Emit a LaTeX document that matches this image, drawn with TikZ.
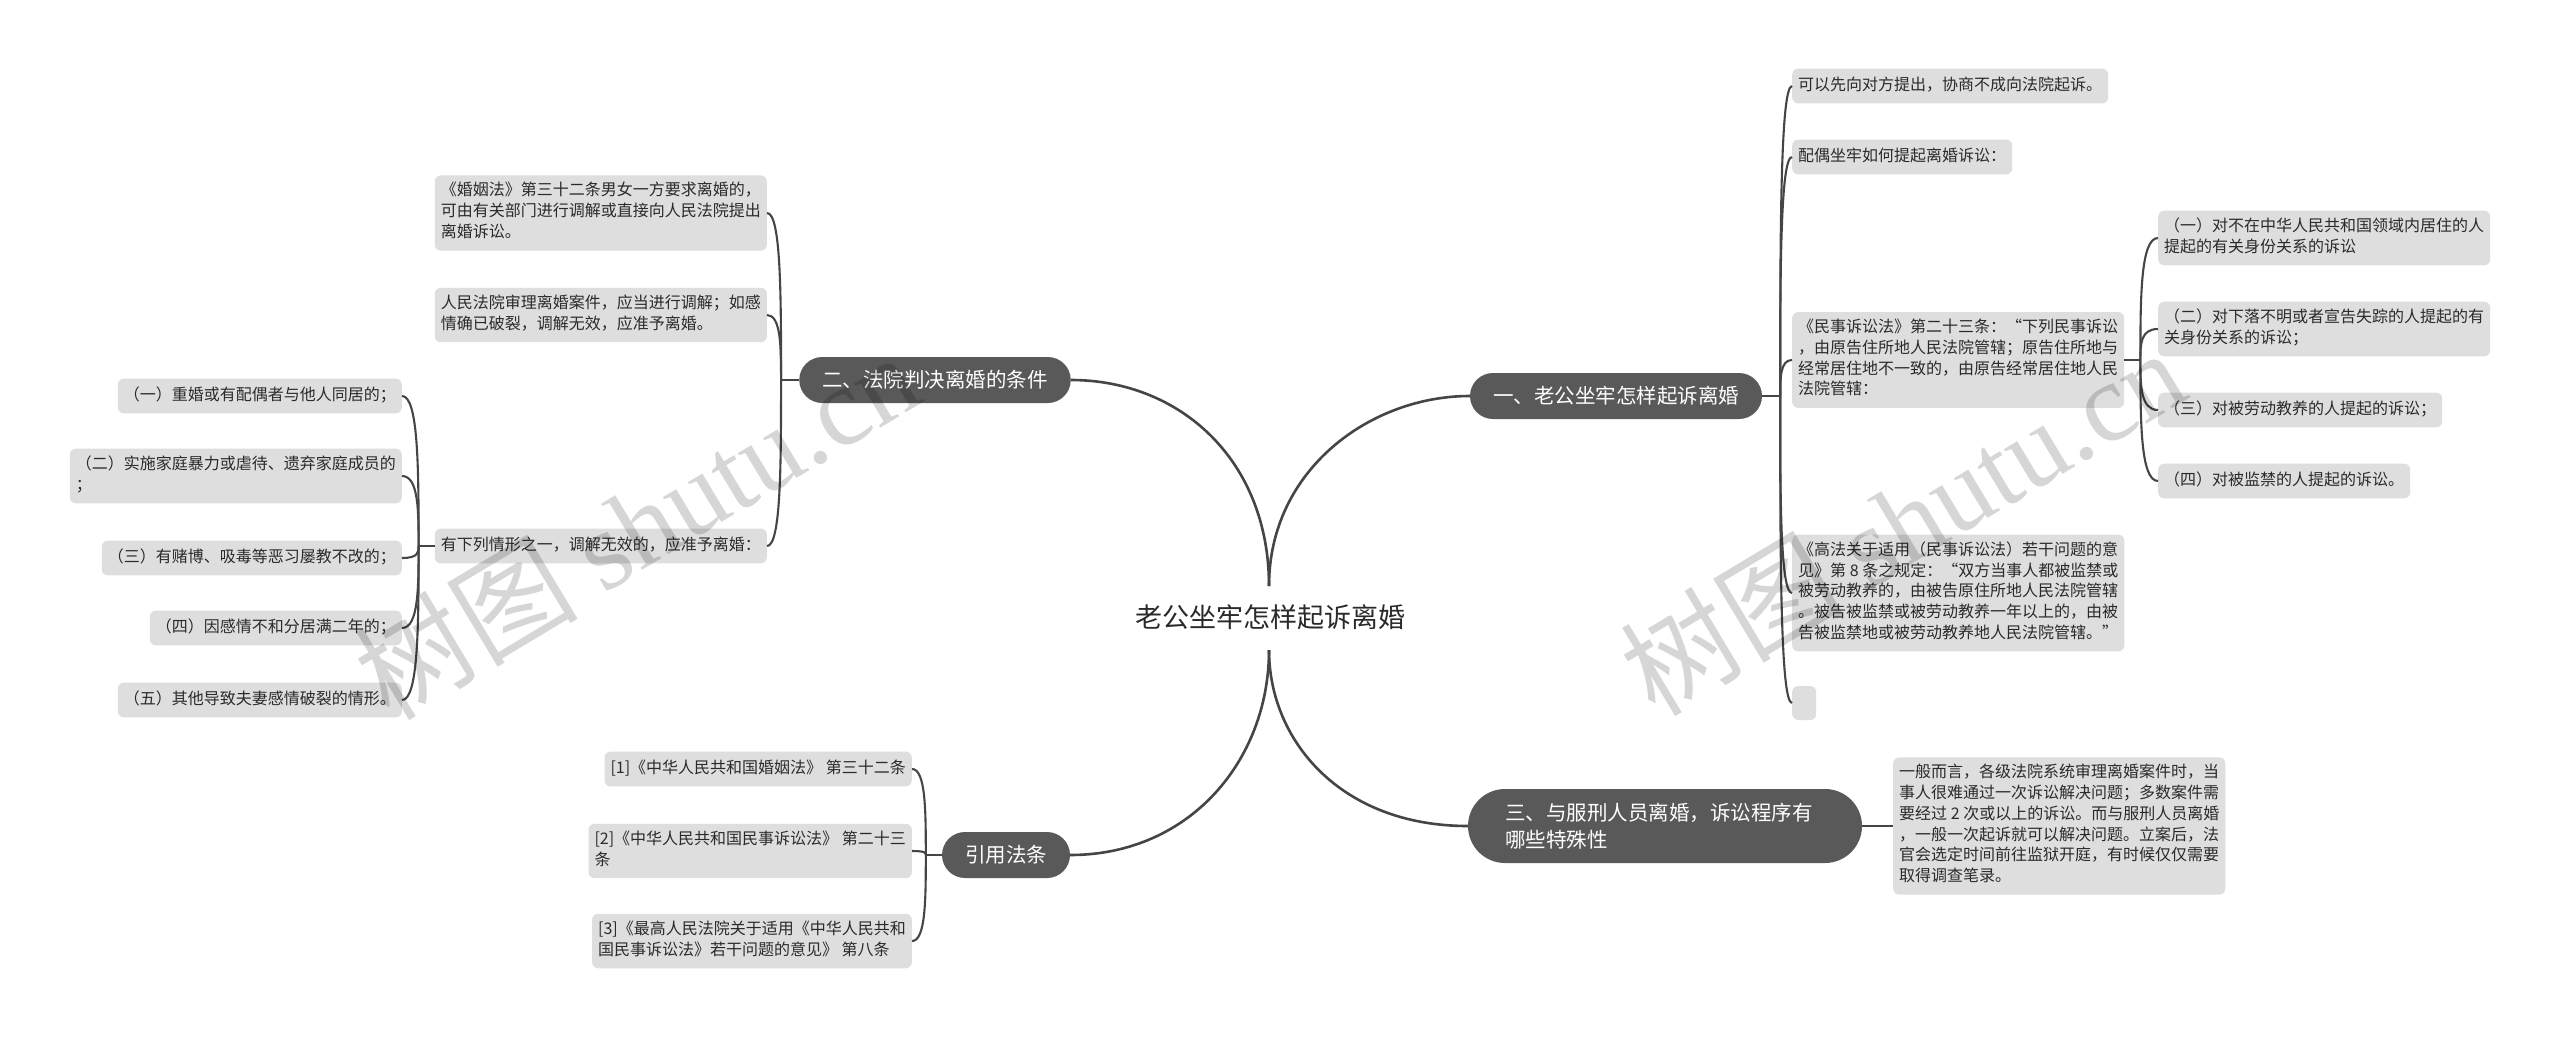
\documentclass[tikz,border=0pt]{standalone}
\usepackage{fontspec}
\setmainfont{Noto Sans CJK SC}
\newfontfamily\wmlatin{Liberation Serif}
\usetikzlibrary{calc}
\definecolor{branchfill}{HTML}{595959}
\definecolor{leaffill}{HTML}{DEDEDE}
\definecolor{linecol}{HTML}{454545}
\definecolor{txtcol}{HTML}{2A2A2A}
\tikzset{
  leaf/.style={fill=leaffill, rounded corners=6pt, inner xsep=6pt, inner ysep=7pt,
    align=left, text=txtcol, font=\fontsize{16}{20.7}\selectfont,
    execute at begin node=\strut, execute at end node=\strut},
  branch/.style={fill=branchfill, text=white, font=\fontsize{20.5}{27}\selectfont,
    inner xsep=23pt, inner ysep=0pt, minimum height=46pt, rounded corners=23pt},
  mainline/.style={draw=linecol, line width=2.6pt},
  leafline/.style={draw=linecol, line width=2.1pt},
  wm/.style={text=black, text opacity=0.16, font=\fontsize{112}{120}\selectfont}
}
\newcommand\elbowconn[2]{\draw[leafline] (#1) .. controls ($(#1)!0.5!(#1 |- #2)$) and (#1 |- #2) .. (#2);}
\begin{document}
\begin{tikzpicture}[x=1pt,y=-1pt]
\path[fill=white] (0,0) rectangle (2560,1039);
\useasboundingbox (0,0) rectangle (2560,1039);

% root
\node[text=txtcol, font=\fontsize{27}{32}\selectfont, inner sep=0pt] (root) at (1270,617) {老公坐牢怎样起诉离婚};
\coordinate (rt) at (1269,586);
\coordinate (rb) at (1269,650);

% branches
\node[branch] (b2) at (935,380) {二、法院判决离婚的条件};
\node[branch] (b1) at (1616,396) {一、老公坐牢怎样起诉离婚};
\node[branch] (b4) at (1006,855) {引用法条};
\node[branch, align=left, text width=320pt, inner xsep=37pt, minimum height=74pt, rounded corners=37pt] (b3) at (1665,826) {三、与服刑人员离婚，诉讼程序有\\哪些特殊性};

\draw[mainline] (rt) .. controls (1269,460) and (1180,380) .. (b2.east);
\draw[mainline] (rt) .. controls (1269,470) and (1370,396) .. (b1.west);
\draw[mainline] (rb) .. controls (1269,760) and (1190,855) .. (b4.east);
\draw[mainline] (rb) .. controls (1269,740) and (1340,826) .. (b3.west);

% branch 二 children
\node[leaf, anchor=east] (a1) at (767,213) {《婚姻法》第三十二条男女一方要求离婚的，\\可由有关部门进行调解或直接向人民法院提出\\离婚诉讼。};
\node[leaf, anchor=east] (a2) at (767,315) {人民法院审理离婚案件，应当进行调解；如感\\情确已破裂，调解无效，应准予离婚。};
\node[leaf, anchor=east] (a3) at (767,546) {有下列情形之一，调解无效的，应准予离婚：};
\node[leaf, anchor=east] (c1) at (402,396) {（一）重婚或有配偶者与他人同居的；};
\node[leaf, anchor=east] (c2) at (402,476) {（二）实施家庭暴力或虐待、遗弃家庭成员的\\；};
\node[leaf, anchor=east] (c3) at (402,558) {（三）有赌博、吸毒等恶习屡教不改的；};
\node[leaf, anchor=east] (c4) at (402,628) {（四）因感情不和分居满二年的；};
\node[leaf, anchor=east] (c5) at (402,700) {（五）其他导致夫妻感情破裂的情形。};

\coordinate (j2) at ($(b2.west)+(-18,0)$);
\draw[leafline] (b2.west) -- (j2);
\elbowconn{j2}{a1.east}
\elbowconn{j2}{a2.east}
\elbowconn{j2}{a3.east}
\coordinate (ja3) at ($(a3.west)+(-16,0)$);
\draw[leafline] (a3.west) -- (ja3);
\elbowconn{ja3}{c1.east}
\elbowconn{ja3}{c2.east}
\elbowconn{ja3}{c3.east}
\elbowconn{ja3}{c4.east}
\elbowconn{ja3}{c5.east}

% 引用法条 children
\node[leaf, anchor=east] (r1) at (912,769) {[1]《中华人民共和国婚姻法》 第三十二条};
\node[leaf, anchor=east] (r2) at (912,851) {[2]《中华人民共和国民事诉讼法》 第二十三\\条};
\node[leaf, anchor=east] (r3) at (912,941) {[3]《最高人民法院关于适用《中华人民共和\\国民事诉讼法》若干问题的意见》 第八条};
\coordinate (j4) at ($(b4.west)+(-16,0)$);
\draw[leafline] (b4.west) -- (j4);
\elbowconn{j4}{r1.east}
\elbowconn{j4}{r2.east}
\elbowconn{j4}{r3.east}

% branch 一 children
\node[leaf, anchor=west] (d1) at (1792,86) {可以先向对方提出，协商不成向法院起诉。};
\node[leaf, anchor=west] (d2) at (1792,157) {配偶坐牢如何提起离婚诉讼：};
\node[leaf, anchor=west] (d3) at (1792,360) {《民事诉讼法》第二十三条：“下列民事诉讼\\，由原告住所地人民法院管辖；原告住所地与\\经常居住地不一致的，由原告经常居住地人民\\法院管辖：};
\node[leaf, anchor=west] (d4) at (1792,593) {《高法关于适用（民事诉讼法）若干问题的意\\见》第 8 条之规定：“双方当事人都被监禁或\\被劳动教养的，由被告原住所地人民法院管辖\\。被告被监禁或被劳动教养一年以上的，由被\\告被监禁地或被劳动教养地人民法院管辖。”};
\node[fill=leaffill, rounded corners=6pt, inner sep=0pt, minimum width=24pt, minimum height=34pt, anchor=west] (d5) at (1792,703) {};
\coordinate (j1) at ($(b1.east)+(18,0)$);
\draw[leafline] (b1.east) -- (j1);
\elbowconn{j1}{d1.west}
\elbowconn{j1}{d2.west}
\elbowconn{j1}{d3.west}
\elbowconn{j1}{d4.west}
\elbowconn{j1}{d5.west}

\node[leaf, anchor=west] (e1) at (2158,238) {（一）对不在中华人民共和国领域内居住的人\\提起的有关身份关系的诉讼};
\node[leaf, anchor=west] (e2) at (2158,329) {（二）对下落不明或者宣告失踪的人提起的有\\关身份关系的诉讼；};
\node[leaf, anchor=west] (e3) at (2158,410) {（三）对被劳动教养的人提起的诉讼；};
\node[leaf, anchor=west] (e4) at (2158,481) {（四）对被监禁的人提起的诉讼。};
\coordinate (jd3) at ($(d3.east)+(16,0)$);
\draw[leafline] (d3.east) -- (jd3);
\elbowconn{jd3}{e1.west}
\elbowconn{jd3}{e2.west}
\elbowconn{jd3}{e3.west}
\elbowconn{jd3}{e4.west}

% branch 三 child
\node[leaf, anchor=west] (f1) at (1893,826) {一般而言，各级法院系统审理离婚案件时，当\\事人很难通过一次诉讼解决问题；多数案件需\\要经过 2 次或以上的诉讼。而与服刑人员离婚\\，一般一次起诉就可以解决问题。立案后，法\\官会选定时间前往监狱开庭，有时候仅仅需要\\取得调查笔录。};
\draw[leafline] (b3.east) -- (f1.west);

% watermarks
\node[wm, rotate=31] (wm1) at (636,525) {树图 {\wmlatin shutu.cn}};
\node[wm, rotate=31] (wm2) at (1902,521) {树图 {\wmlatin shutu.cn}};
\end{tikzpicture}
\end{document}
